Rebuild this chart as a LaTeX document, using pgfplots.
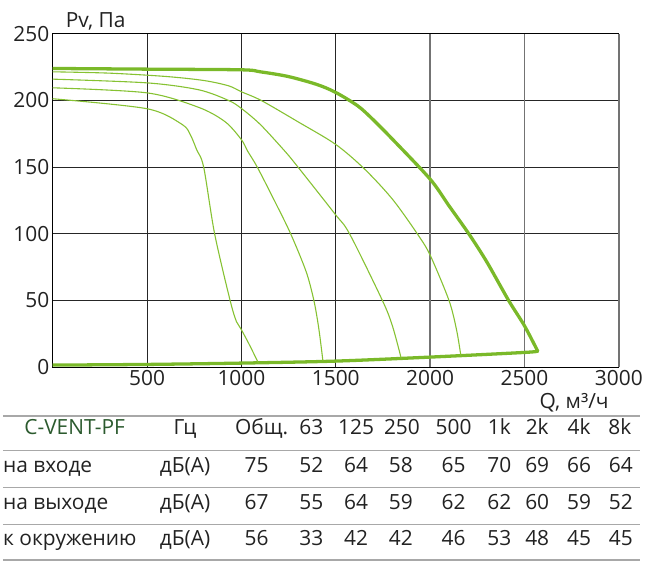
\documentclass[border=0pt]{standalone}
\usepackage{pgfplots}
\pgfplotsset{compat=1.18}
\usepackage{fontspec}
\setmainfont{Open Sans}
\usetikzlibrary{calc}

\definecolor{fan}{HTML}{7AB929}
\definecolor{fanthin}{HTML}{86C232}
\definecolor{hdr}{HTML}{2B5A2E}
\definecolor{txt}{HTML}{222222}
\definecolor{rulec}{HTML}{A8A8A8}
\newcommand{\fs}{\fontsize{21bp}{25bp}\selectfont}

\begin{document}
\begin{tikzpicture}[x=1bp,y=1bp]

\begin{axis}[
    scale only axis, width=569bp, height=335bp,
    xmin=0, xmax=3000, ymin=0, ymax=250,
    xtick={500,1000,1500},
    extra x ticks={2000,2500,3000},
    extra x tick style={xmajorgrids=true, major grid style={black!55, line width=1.5bp}},
    ytick={0,50,...,250},
    grid=major,
    major grid style={black!85, line width=1.1bp},
    axis line style={black, line width=1bp},
    major tick length=0pt,
    tick label style={font=\fs, text=txt},
    /pgf/number format/assume math mode=true,
    /pgf/number format/1000 sep={},
]
\coordinate (O) at (axis cs:0,0);
% main fan curve
\addplot[fan, line width=3.3bp, smooth, tension=0.5, line cap=round] coordinates {
    (0,224) (500,223.5) (1000,223) (1100,221.5) (1247,218) (1400,212)
    (1500,206) (1616,196) (1695,186) (1800,171) (2000,141) (2100,121)
    (2205,100) (2300,79) (2416,50) (2500,31) (2570,12)
};
% system line
\addplot[fan, line width=3.3bp, smooth, tension=0.5, line cap=round] coordinates {
    (0,1.5) (500,2) (1000,3) (1500,4.5) (2000,7.5) (2500,11) (2570,12)
};
% regulated curves
\addplot[fanthin, line width=1.1bp, smooth, tension=0.5] coordinates {
    (0,221.5) (300,220.5) (600,218) (800,215) (932,211) (1000,206.5)
    (1105,200) (1300,184) (1500,167) (1653,148.5) (1800,126) (1932,100)
    (2000,84) (2100,50) (2140,28) (2163,8.5)
};
\addplot[fanthin, line width=1.1bp, smooth, tension=0.5] coordinates {
    (0,216) (500,213.2) (774,208) (932,200) (1000,194) (1100,182)
    (1230,162) (1300,150) (1495,115) (1573,100) (1747,50) (1800,31) (1847,6.5)
};
\addplot[fanthin, line width=1.1bp, smooth, tension=0.5] coordinates {
    (0,209.5) (500,205.7) (774,194.8) (914,184) (1000,170.6) (1033,162)
    (1084,150) (1178,124) (1261,100) (1343,71.6) (1384,50) (1410,29) (1432,4.5)
};
\addplot[fanthin, line width=1.1bp, smooth, tension=0.5] coordinates {
    (0,201.3) (500,193.8) (686,182) (730,174) (763,163) (800,150)
    (858,100) (940,50) (974,34) (1000,28) (1045,16) (1090,3)
};
\end{axis}

\begin{scope}[shift={($(O)+(-53,-201)$)}]
\path (0,0) rectangle (646,570);

% axis titles
\node[anchor=base west, font=\fs, text=txt, inner sep=0pt] at (66,542) {Pv, Па};
\node[anchor=base east, font=\fs, text=txt, inner sep=0pt] at (612,159) {Q, м³/ч};

% noise table
\foreach \yy in {152,117,80,43,7}
    \draw[rulec, line width=1.4bp] (3,\yy) -- (643,\yy);

\node[anchor=base, font=\fs, text=hdr, inner sep=0pt] at (75,133) {C-VENT-PF};
\foreach \xx/\t in {186/Гц, 263/Общ., 313/63, 358/125, 404/250, 456/500,
                    502/1k, 540/2k, 582/4k, 623/8k}
    \node[anchor=base, font=\fs, text=txt, inner sep=0pt] at (\xx,133) {\t};

\foreach \yy/\lab/\va/\vb/\vc/\vd/\ve/\vf/\vg/\vh/\vi in {
    95/на входе/75/52/64/58/65/70/69/66/64,
    58/на выходе/67/55/64/59/62/62/60/59/52,
    22/к окружению/56/33/42/42/46/53/48/45/45}{
    \node[anchor=base west, font=\fs, text=txt, inner sep=0pt] at (3,\yy) {\lab};
    \node[anchor=base, font=\fs, text=txt, inner sep=0pt] at (186,\yy) {дБ(А)};
    \foreach \xx/\v in {258/\va, 313/\vb, 358/\vc, 403/\vd, 456/\ve,
                        502/\vf, 540/\vg, 582/\vh, 624/\vi}
        \node[anchor=base, font=\fs, text=txt, inner sep=0pt] at (\xx,\yy) {\v};
}
\end{scope}
\end{tikzpicture}
\end{document}
